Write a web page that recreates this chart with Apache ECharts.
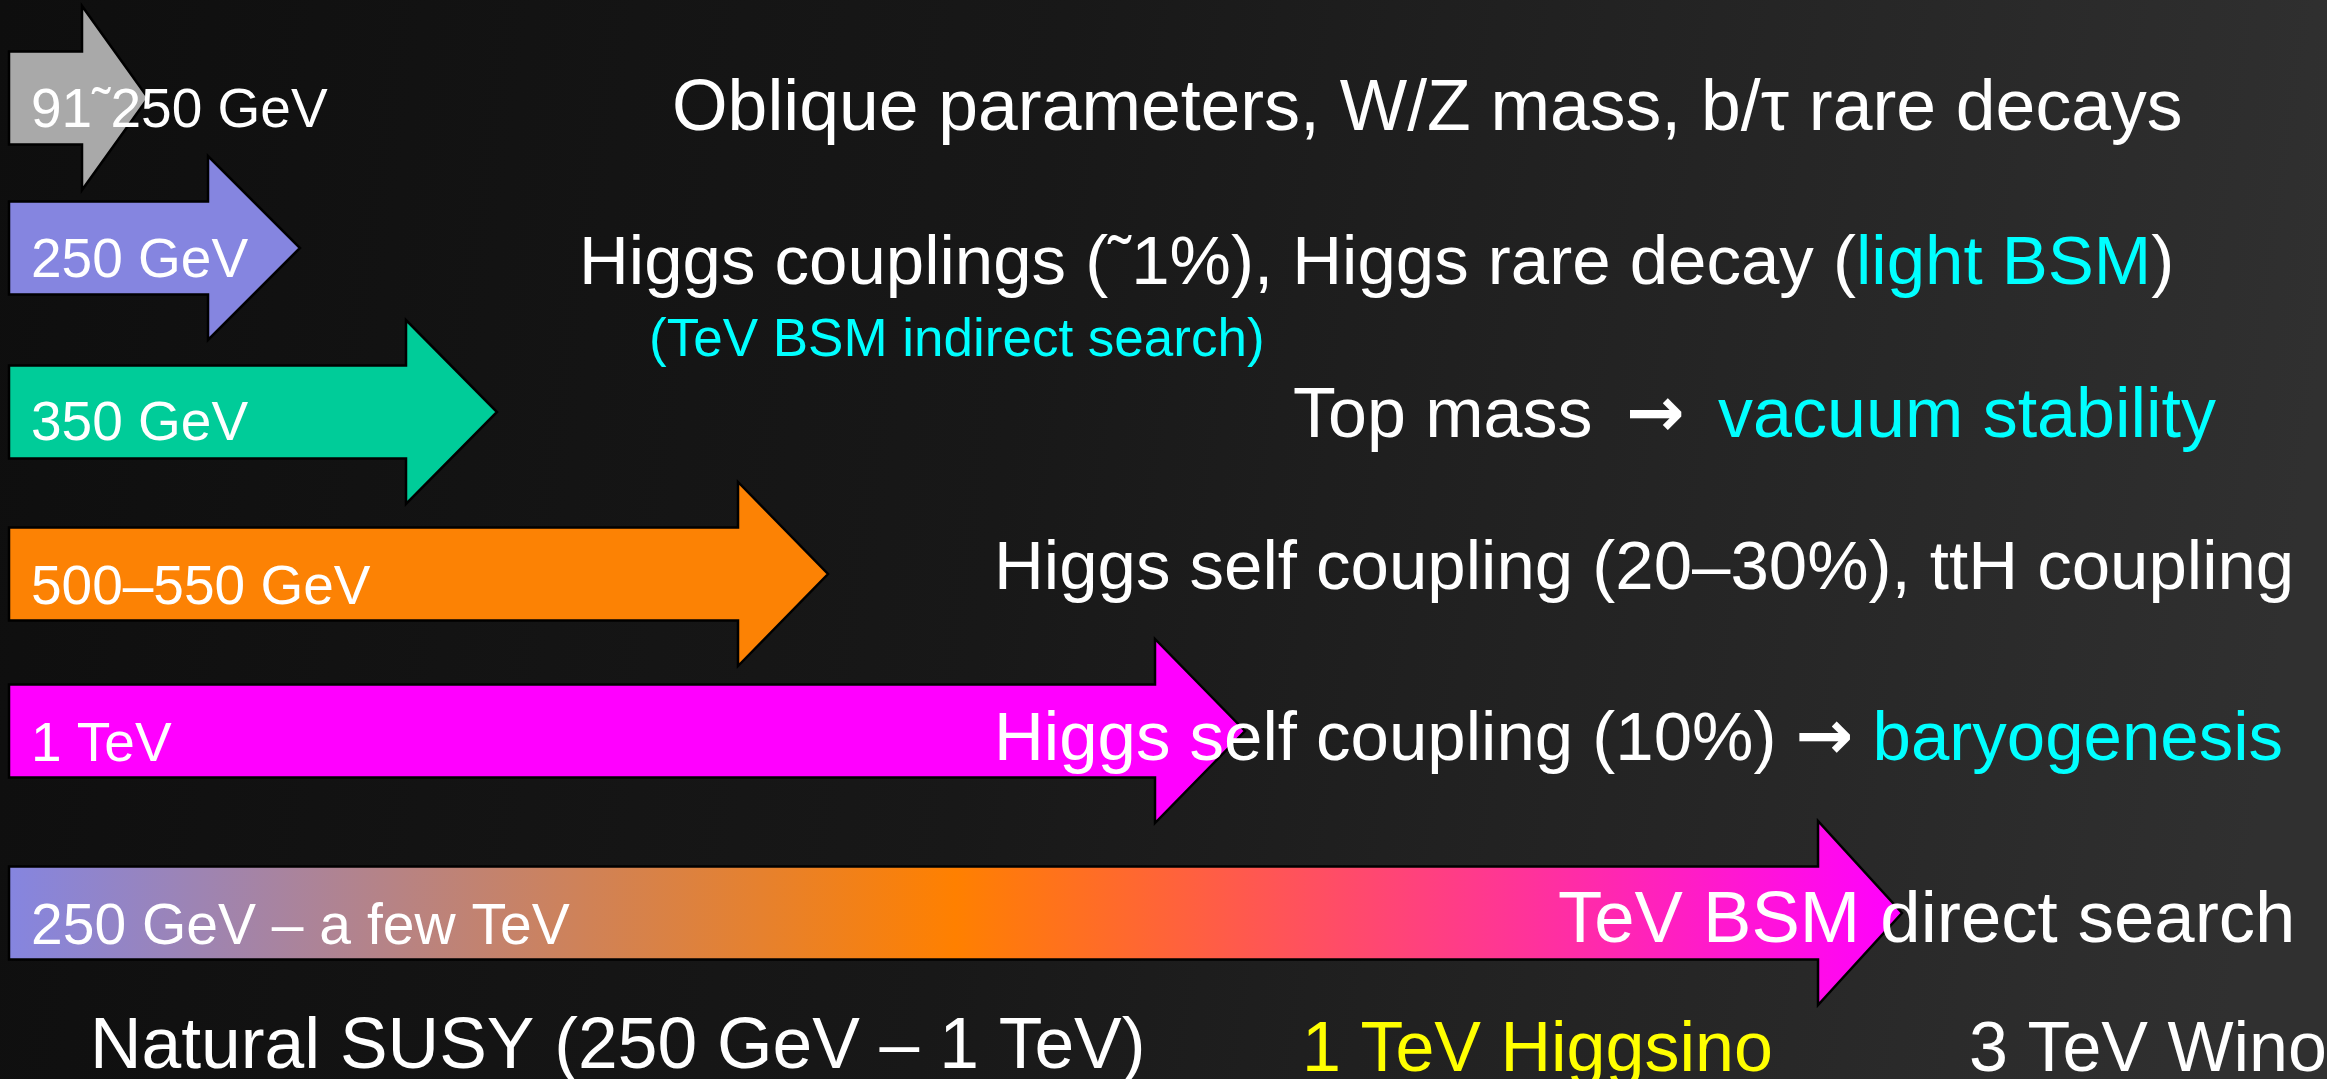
<!DOCTYPE html>
<html>
<head>
<meta charset="utf-8">
<script src="https://cdn.jsdelivr.net/npm/echarts@6/dist/echarts.min.js"></script>
<style>
html,body{margin:0;padding:0;background:#111;}
#chart{width:2327px;height:1079px;}
</style>
</head>
<body>
<div id="chart"></div>
<script>
// ---- data ----
const stageLabels = ['91\u02DC250 GeV', '250 GeV', '350 GeV', '500\u2013550 GeV', '1 TeV', '250 GeV \u2013 a few TeV'];
const arrowStart = [9, 9, 9, 9, 9, 9];
const arrowNeck = [82, 208, 406, 738, 1155, 1818];
const arrowTip = [148, 300, 497, 828, 1245, 1902];
const rowCenter = [98, 248, 412, 574, 731, 913];
const goalTexts = [
  '{w|Oblique parameters, W/Z mass, b/\u03C4 rare decays}',
  '{w|Higgs couplings (\u02DC1%), Higgs rare decay (}{c|light BSM}{w|)}',
  '{w|Top mass }{b|\u2192}{w| }{c|vacuum stability}',
  '{w|Higgs self coupling (20\u201330%), ttH coupling}',
  '{w|Higgs self coupling (10%) }{a|\u2192}{w| }{c|baryogenesis}',
  '{w|TeV BSM direct search}'
];
const indirectNote = '(TeV BSM indirect search)';
const bsmTargets = ['Natural SUSY (250 GeV \u2013 1 TeV)', '1 TeV Higgsino', '3 TeV Wino'];

// ---- layout / style ----
const FONT = '"Liberation Sans", Arial, sans-serif';
const arrowColors = [
  '#A9A9A9', '#8585E0', '#00CC99', '#FC8204', '#FF00FF',
  new echarts.graphic.LinearGradient(0, 0, 1, 0, [
    {offset: 0, color: '#8585E0'},
    {offset: 0.5, color: '#FF8000'},
    {offset: 1, color: '#FF00FF'}
  ])
];
const bodyHalf = 46.5, headHalf = 92;
const labelPos = [[31,112],[31,262],[31,425],[31,589],[31,746],[31,928]];
const labelSize = [55, 55, 55, 55, 55, 57];
const goalPos = [[672,110],[579,265],[1293,418],[994,570],[994,741],[1558,922]];
const goalSize = [71.5, 69, 70, 69, 69, 72.5];
const bsmPos = [[90,1048],[1302,1052],[1969,1052]];
const bsmSize = [71.4, 70, 70];
const bsmColors = ['#FFFFFF', '#FFFF00', '#FFFFFF'];

const arrowData = stageLabels.map((s, i) => [arrowStart[i], arrowNeck[i], arrowTip[i], rowCenter[i], i]);

function richStyles(fs) {
  return {
    w: {fill: '#FFFFFF', font: fs + 'px ' + FONT},
    c: {fill: '#00FFFF', font: fs + 'px ' + FONT},
    a: {fill: '#FFFFFF', font: 'bold ' + fs + 'px "DejaVu Sans", sans-serif'},
    b: {fill: '#FFFFFF', font: 'bold ' + fs + 'px "DejaVu Sans", sans-serif', padding: [0, 14, 0, 14]}
  };
}

const graphics = [];
stageLabels.forEach((t, i) => {
  graphics.push({type: 'text', z: 10, style: {text: t, x: labelPos[i][0], y: labelPos[i][1], font: labelSize[i] + 'px ' + FONT, fill: '#FFFFFF', textAlign: 'left', textVerticalAlign: 'middle'}});
});
goalTexts.forEach((t, i) => {
  graphics.push({type: 'text', z: 10, style: {text: t, x: goalPos[i][0], y: goalPos[i][1], rich: richStyles(goalSize[i]), font: goalSize[i] + 'px ' + FONT, fill: '#FFFFFF', textAlign: 'left', textVerticalAlign: 'middle'}});
});
graphics.push({type: 'text', z: 10, style: {text: indirectNote, x: 649, y: 341, font: '53px ' + FONT, fill: '#00FFFF', textAlign: 'left', textVerticalAlign: 'middle'}});
bsmTargets.forEach((t, i) => {
  graphics.push({type: 'text', z: 10, style: {text: t, x: bsmPos[i][0], y: bsmPos[i][1], font: bsmSize[i] + 'px ' + FONT, fill: bsmColors[i], textAlign: 'left', textVerticalAlign: 'middle'}});
});

const chart = echarts.init(document.getElementById('chart'), null, {renderer: 'canvas'});
chart.setOption({
  animation: false,
  backgroundColor: new echarts.graphic.LinearGradient(0, 0, 1, 0.3, [
    {offset: 0, color: '#0e0e0e'},
    {offset: 0.45, color: '#181818'},
    {offset: 1, color: '#303030'}
  ]),
  grid: {left: 0, right: 0, top: 0, bottom: 0},
  xAxis: {type: 'value', min: 0, max: 2327, show: false},
  yAxis: {type: 'value', min: 0, max: 1079, inverse: true, show: false},
  series: [{
    type: 'custom',
    data: arrowData,
    clip: false,
    renderItem: function (params, api) {
      const x0 = api.value(0), xn = api.value(1), xt = api.value(2), c = api.value(3), i = api.value(4);
      const pts = [
        api.coord([x0, c - bodyHalf]),
        api.coord([xn, c - bodyHalf]),
        api.coord([xn, c - headHalf]),
        api.coord([xt, c]),
        api.coord([xn, c + headHalf]),
        api.coord([xn, c + bodyHalf]),
        api.coord([x0, c + bodyHalf])
      ];
      return {
        type: 'polygon',
        shape: {points: pts},
        style: {fill: arrowColors[i], stroke: '#000000', lineWidth: 2.5, lineJoin: 'miter'}
      };
    }
  }],
  graphic: graphics
});
</script>
</body>
</html>
